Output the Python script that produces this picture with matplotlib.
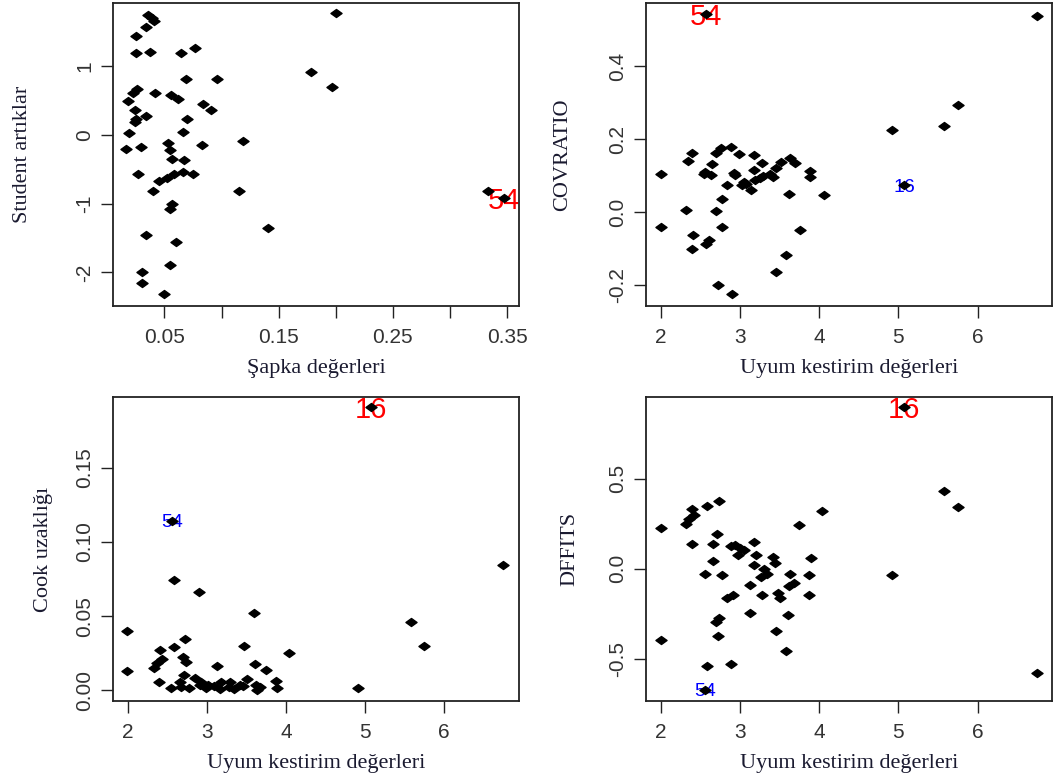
import matplotlib
matplotlib.use("Agg")
import matplotlib.pyplot as plt
from matplotlib.path import Path

# Regresyon tanı grafikleri: artıklar, COVRATIO, Cook uzaklığı, DFFITS

# sapka (hat) degerleri ve student artiklari
hat = [0.200, 0.0354, 0.039, 0.041, 0.0337, 0.025, 0.077, 0.037,
       0.025, 0.0646, 0.1786, 0.0687, 0.0964, 0.1967, 0.0255, 0.0223,
       0.0413, 0.0558, 0.0622, 0.0179, 0.0838, 0.0911, 0.024, 0.0337,
       0.025, 0.070, 0.0246, 0.019, 0.066, 0.0535, 0.119, 0.0827,
       0.0165, 0.0296, 0.055, 0.0564, 0.067, 0.027, 0.075, 0.0666,
       0.058, 0.052, 0.0453, 0.040, 0.1156, 0.3334, 0.347, 0.057,
       0.055, 0.141, 0.0334, 0.0602, 0.055, 0.0305, 0.0305, 0.0497]
stud = [1.78, 1.75, 1.70, 1.67, 1.57, 1.44, 1.27, 1.21,
        1.19, 1.19, 0.92, 0.82, 0.82, 0.70, 0.67, 0.61,
        0.62, 0.59, 0.53, 0.50, 0.45, 0.36, 0.37, 0.28,
        0.23, 0.24, 0.19, 0.03, 0.05, -0.11, -0.09, -0.14,
        -0.20, -0.18, -0.21, -0.35, -0.36, -0.56, -0.57, -0.54,
        -0.57, -0.62, -0.67, -0.81, -0.81, -0.81, -0.91, -1.01,
        -1.08, -1.36, -1.46, -1.56, -1.89, -1.99, -2.16, -2.32]

# uyum kestirim degerleri - COVRATIO
cov_x = [2.0, 2.39, 2.345, 2.76, 2.893, 2.703, 2.99, 3.18,
         2.653, 3.284, 2.564, 2.638, 2.922, 3.175, 3.524, 3.638,
         3.693, 3.461, 3.377, 3.293, 3.419, 3.187, 3.082, 3.137,
         3.032, 2.838, 3.882, 3.882, 3.617, 4.058, 2.775, 2.316,
         2.703, 2.0, 2.775, 3.756, 2.404, 2.61, 2.577, 2.392,
         3.587, 3.461, 2.728, 2.897, 4.914, 5.579, 5.747, 6.75,
         2.568, 5.074, 2.55, 3.05, 3.25, 2.94]
cov_y = [0.104, 0.162, 0.139, 0.176, 0.178, 0.162, 0.160, 0.158,
         0.131, 0.136, 0.111, 0.103, 0.108, 0.116, 0.137, 0.148,
         0.135, 0.121, 0.105, 0.100, 0.096, 0.089, 0.078, 0.061,
         0.075, 0.073, 0.114, 0.096, 0.050, 0.046, 0.037, 0.006,
         0.003, -0.041, -0.041, -0.048, -0.064, -0.078, -0.089, -0.102,
         -0.118, -0.164, -0.199, -0.226, 0.224, 0.236, 0.294, 0.539,
         0.545, 0.073, 0.104, 0.082, 0.094, 0.101]

# uyum kestirim degerleri - Cook uzakligi
cook_x = [5.072, 2.556, 6.75, 2.58, 2.898, 3.589, 5.586, 1.99,
          2.725, 3.467, 5.746, 2.577, 2.40, 4.04, 2.695, 2.426,
          2.729, 2.362, 3.13, 3.606, 2.333, 3.745, 1.99, 2.708,
          2.843, 2.396, 3.509, 3.871, 2.653, 2.927, 3.016, 3.18,
          3.294, 3.42, 3.622, 3.673, 2.548, 2.771, 2.99, 3.167,
          3.336, 3.884, 4.916, 3.631, 2.674, 2.906, 3.083, 3.273,
          3.462]
cook_y = [0.191, 0.1145, 0.0846, 0.0742, 0.0663, 0.0522, 0.0463, 0.0398,
          0.0346, 0.0301, 0.0301, 0.0292, 0.0274, 0.0254, 0.0225, 0.0214,
          0.0191, 0.0187, 0.0166, 0.0178, 0.0151, 0.0139, 0.013, 0.0101,
          0.0083, 0.0054, 0.0076, 0.0065, 0.0056, 0.0056, 0.0038, 0.0056,
          0.0056, 0.0034, 0.0034, 0.0025, 0.0018, 0.0018, 0.0018, 0.0011,
          0.0011, 0.0013, 0.0016, 0.0005, 0.0022, 0.0034, 0.0029, 0.0022,
          0.0027]

# uyum kestirim degerleri - DFFITS
dff_x = [5.074, 5.579, 5.747, 4.038, 2.733, 2.589, 2.392, 2.417,
         2.358, 2.324, 3.752, 2.0, 2.716, 3.183, 2.396, 2.657,
         2.888, 2.943, 3.002, 3.057, 2.981, 3.208, 3.419, 3.903,
         2.657, 3.448, 3.179, 3.305, 3.339, 3.267, 2.56, 2.77,
         3.634, 3.869, 4.914, 3.124, 3.68, 3.625, 3.482, 3.276,
         3.874, 2.918, 2.838, 3.503, 3.124, 3.604, 2.733, 2.703,
         3.461, 2.728, 2.0, 3.587, 2.884, 2.585, 6.75, 2.564]
dff_y = [0.898, 0.430, 0.343, 0.321, 0.377, 0.347, 0.334, 0.297,
         0.276, 0.247, 0.243, 0.226, 0.195, 0.147, 0.137, 0.137,
         0.126, 0.130, 0.117, 0.104, 0.078, 0.074, 0.065, 0.061,
         0.045, 0.033, 0.020, 0.0, -0.028, -0.048, -0.028, -0.035,
         -0.028, -0.035, -0.035, -0.089, -0.082, -0.095, -0.135, -0.145,
         -0.145, -0.145, -0.161, -0.161, -0.247, -0.256, -0.273, -0.297,
         -0.349, -0.375, -0.397, -0.46, -0.531, -0.540, -0.579, -0.673]

# isaretlenen gozlemler: (indeks, etiket, renk, boyut)
hat_lab = [(46, "54", "red", 21)]
cov_lab = [(48, "54", "red", 21), (49, "16", "blue", 14)]
cook_lab = [(0, "16", "red", 21), (1, "54", "blue", 14)]
dff_lab = [(0, "16", "red", 21), (55, "54", "blue", 14)]

hat_ticks = [0.05, 0.10, 0.15, 0.20, 0.25, 0.30, 0.35]
hat_ticklab = ["0.05", "", "0.15", "", "0.25", "", "0.35"]
fit_ticks = [2, 3, 4, 5, 6]

diamond = Path([(-1, 0), (0, 0.72), (1, 0), (0, -0.72), (-1, 0)],
               [Path.MOVETO, Path.LINETO, Path.LINETO, Path.LINETO, Path.CLOSEPOLY])

fig = plt.figure(figsize=(10.62, 7.83), dpi=100)
fig.patch.set_facecolor("white")

lab_color = "#1a1a30"
tick_color = "#333333"


def panel(rect, x, y, labels, xlim, ylim, xt, xtl, yt, ytl, xlab, ylab, ylab_x):
    ax = fig.add_axes(rect)
    for idx, txt, col, size in labels:
        ax.text(x[idx], y[idx], txt, color=col, fontsize=size, ha="center",
                va="center_baseline", family="Liberation Sans", zorder=2)
    ax.plot(x, y, ls="none", marker=diamond, color="black", ms=8, zorder=3)
    ax.set_xlim(*xlim)
    ax.set_ylim(*ylim)
    ax.set_xticks(xt)
    ax.set_xticklabels(xtl)
    ax.set_yticks(yt)
    ax.set_yticklabels(ytl, rotation=90, va="center")
    ax.tick_params(direction="out", length=8.6, width=1.0, color="#222222",
                   labelcolor=tick_color, labelsize=15)
    ax.tick_params(axis="x", pad=7)
    ax.tick_params(axis="y", pad=5)
    for t in ax.get_xticklabels() + ax.get_yticklabels():
        t.set_family("Liberation Sans")
    for s in ax.spines.values():
        s.set_linewidth(1.3)
        s.set_color("#222222")
    ax.set_xlabel(xlab, family="Liberation Serif", fontsize=16, color=lab_color)
    ax.set_ylabel(ylab, family="Liberation Serif", fontsize=16, color=lab_color)
    ax.xaxis.label.set_va("center")
    ax.yaxis.label.set_va("center")
    ax.xaxis.set_label_coords(0.5, -0.205)
    ax.yaxis.set_label_coords(ylab_x, 0.5)
    return ax


panel([0.1064, 0.6092, 0.3823, 0.3874], hat, stud, hat_lab,
      (0.0049, 0.3605), (-2.49, 1.93), hat_ticks, hat_ticklab,
      [-2, -1, 0, 1], ["-2", "-1", "0", "1"],
      "Şapka değerleri", "Student artıklar", -0.224)

panel([0.6083, 0.6092, 0.3823, 0.3874], cov_x, cov_y, cov_lab,
      (1.815, 6.94), (-0.258, 0.575), fit_ticks, [str(v) for v in fit_ticks],
      [-0.2, 0.0, 0.2, 0.4], ["-0.2", "0.0", "0.2", "0.4"],
      "Uyum kestirim değerleri", "COVRATIO", -0.205)

panel([0.1064, 0.1043, 0.3823, 0.3891], cook_x, cook_y, cook_lab,
      (1.81, 6.95), (-0.0074, 0.198), fit_ticks, [str(v) for v in fit_ticks],
      [0.0, 0.05, 0.10, 0.15], ["0.00", "0.05", "0.10", "0.15"],
      "Uyum kestirim değerleri", "Cook uzaklığı", -0.172)

panel([0.6083, 0.1043, 0.3823, 0.3891], dff_x, dff_y, dff_lab,
      (1.815, 6.94), (-0.738, 0.957), fit_ticks, [str(v) for v in fit_ticks],
      [-0.5, 0.0, 0.5], ["-0.5", "0.0", "0.5"],
      "Uyum kestirim değerleri", "DFFITS", -0.187)

fig.savefig("out.png", dpi=100, facecolor="white")
